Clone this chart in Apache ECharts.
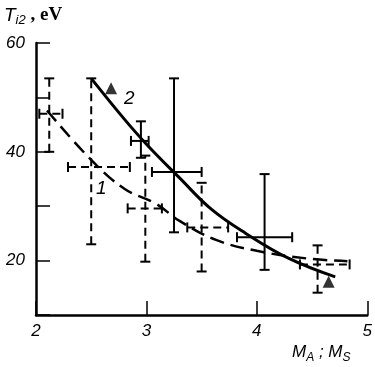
<!DOCTYPE html>
<html><head><meta charset="utf-8">
<script src="https://cdn.jsdelivr.net/npm/echarts@6/dist/echarts.min.js"></script>
<style>html,body{margin:0;padding:0;background:#fff}#c{width:375px;height:367px}</style>
</head><body><div id="c"></div>
<script>
// Tick labels
const xTickLabels = [2, 3, 4, 5];
const yTickLabels = [20, 40, 60];

// Series 1 (dashed error bars)
const s1X     = [2.12, 2.50, 2.99, 3.50, 4.55];
const s1Y     = [47.0, 37.2, 29.6, 26.1, 19.3];
const s1XLow  = [2.03, 2.29, 2.83, 3.37, 4.39];
const s1XHigh = [2.24, 2.85, 3.14, 3.74, 4.84];
const s1YLow  = [40.0, 23.0, 19.8, 18.0, 14.1];
const s1YHigh = [53.5, 53.5, 39.3, 34.3, 22.8];

// Series 2 (solid error bars)
const s2X     = [2.95, 3.25, 4.07];
const s2Y     = [42.0, 36.3, 24.3];
const s2XLow  = [2.86, 3.05, 3.82];
const s2XHigh = [3.02, 3.50, 4.32];
const s2YLow  = [38.9, 25.2, 18.3];
const s2YHigh = [45.6, 53.5, 35.9];

// Curve 1 (dashed) and curve 2 (solid)
const curve1X = [2.10, 2.50, 2.80, 3.09, 3.30, 3.63, 4.00, 4.45, 4.82];
const curve1Y = [47.6, 38.5, 33.2, 30.4, 27.3, 23.8, 21.8, 20.4, 19.9];
const curve2X = [2.50, 2.80, 3.00, 3.30, 3.59, 3.90, 4.29, 4.71];
const curve2Y = [53.5, 46.0, 41.4, 35.2, 29.4, 25.0, 20.4, 17.0];

// Triangle markers
const triX = [2.68, 4.65];
const triY = [51.7, 16.1];

function rows(x, y, xl, xh, yl, yh) {
  return x.map((v, i) => [v, y[i], xl[i], xh[i], yl[i], yh[i]]);
}
function pairs(x, y) { return x.map((v, i) => [v, y[i]]); }

function errRender(dashed) {
  return function (params, api) {
    const x = api.value(0), y = api.value(1);
    const l = api.coord([api.value(2), y]);
    const r = api.coord([api.value(3), y]);
    const lo = api.coord([x, api.value(4)]);
    const hi = api.coord([x, api.value(5)]);
    const cap = 5;
    const style = { stroke: '#000', lineWidth: 2, lineDash: dashed ? [8, 5] : null, fill: null };
    const capStyle = { stroke: '#000', lineWidth: 2, fill: null };
    const mk = (x1, y1, x2, y2, st) => ({ type: 'line', shape: { x1, y1, x2, y2 }, style: st });
    return {
      type: 'group',
      children: [
        mk(lo[0], lo[1], hi[0], hi[1], style),
        mk(lo[0] - cap, lo[1], lo[0] + cap, lo[1], capStyle),
        mk(hi[0] - cap, hi[1], hi[0] + cap, hi[1], capStyle),
        mk(l[0], l[1], r[0], r[1], style),
        mk(l[0], l[1] - cap, l[0], l[1] + cap, capStyle),
        mk(r[0], r[1] - cap, r[0], r[1] + cap, capStyle)
      ]
    };
  };
}

const chart = echarts.init(document.getElementById('c'));
const numFont = { fontFamily: 'Liberation Sans', fontStyle: 'italic', fontSize: 17, color: '#000' };
chart.setOption({
  animation: false,
  backgroundColor: '#fff',
  grid: { left: 36, right: 6, top: 43, bottom: 52 },
  xAxis: {
    type: 'value', min: 2, max: 5, interval: 1,
    axisLine: { show: true, lineStyle: { color: '#000', width: 2.5 } },
    axisTick: { show: true, inside: true, length: 14, lineStyle: { color: '#000', width: 1.5 } },
    splitLine: { show: false },
    axisLabel: Object.assign({ margin: 8, formatter: v => xTickLabels.includes(v) ? String(v) : '' }, numFont)
  },
  yAxis: {
    type: 'value', min: 10, max: 60, interval: 10,
    axisLine: { show: true, lineStyle: { color: '#000', width: 2.5 } },
    axisTick: { show: true, inside: true, length: 14, lineStyle: { color: '#000', width: 1.5 } },
    splitLine: { show: false },
    axisLabel: Object.assign({ margin: 11, formatter: v => yTickLabels.includes(v) ? String(v) : '' }, numFont)
  },
  series: [
    { type: 'custom', renderItem: errRender(true), data: rows(s1X, s1Y, s1XLow, s1XHigh, s1YLow, s1YHigh), encode: { x: 0, y: 1 }, z: 3 },
    { type: 'custom', renderItem: errRender(false), data: rows(s2X, s2Y, s2XLow, s2XHigh, s2YLow, s2YHigh), encode: { x: 0, y: 1 }, z: 3 },
    { type: 'line', data: pairs(curve1X, curve1Y), smooth: 0.4, symbol: 'none', lineStyle: { color: '#000', width: 2.5, type: [14, 7] }, z: 4 },
    { type: 'line', data: pairs(curve2X, curve2Y), smooth: 0.4, symbol: 'none', lineStyle: { color: '#000', width: 3 }, z: 4 },
    { type: 'scatter', data: pairs(triX, triY), symbol: 'triangle', symbolSize: 12, itemStyle: { color: '#000' }, z: 5 }
  ],
  graphic: [
    { type: 'text', left: 4, top: 6, style: {
      rich: {
        t: { fontFamily: 'Liberation Sans', fontStyle: 'italic', fontSize: 19, fill: '#000' },
        s: { fontFamily: 'Liberation Sans', fontStyle: 'italic', fontSize: 13, fill: '#000', verticalAlign: 'bottom', padding: [10, 0, 0, 0] },
        e: { fontFamily: 'Liberation Serif', fontWeight: 'bold', fontSize: 19, fill: '#000' }
      },
      text: '{t|T}{s|i2}{e| , eV}'
    } },
    { type: 'text', left: 292, top: 344, style: {
      rich: {
        t: { fontFamily: 'Liberation Sans', fontStyle: 'italic', fontSize: 17, fill: '#000' },
        s: { fontFamily: 'Liberation Sans', fontStyle: 'italic', fontSize: 12, fill: '#000', padding: [10, 0, 0, 0] }
      },
      text: '{t|M}{s|A}{t| ; M}{s|S}'
    } },
    { type: 'text', left: 124, top: 89, style: { text: '2', font: 'italic 19px "Liberation Sans"', fill: '#000' } },
    { type: 'text', left: 96, top: 179, style: { text: '1', font: 'italic 19px "Liberation Sans"', fill: '#000' } }
  ]
});
</script>
</body></html>
